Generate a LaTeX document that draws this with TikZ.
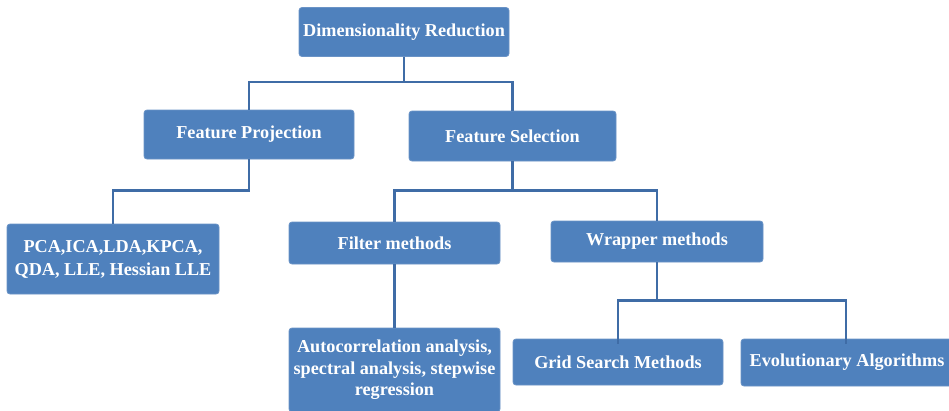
\documentclass[tikz,border=0pt]{standalone}
\usepackage{fontspec}
\setmainfont{Liberation Serif}
\definecolor{boxfill}{HTML}{4F81BD}
\definecolor{boxline}{HTML}{6A93C6}
\definecolor{conn}{HTML}{3F6CA6}
\begin{document}
\begin{tikzpicture}[x=1pt,y=-1pt,
  box/.style={draw=boxline, line width=0.8pt, fill=boxfill, rounded corners=3pt,
    text=white, font=\bfseries\fontsize{18.2}{21.5}\selectfont, align=center,
    inner sep=0pt},
  link/.style={draw=conn, line width=2.8pt}]
\useasboundingbox (0,0) rectangle (949,410);
\node[box, minimum width=210, minimum height=49] (dr) at (404,32) {Dimensionality Reduction};
\node[box, minimum width=210, minimum height=49] (fp) at (249,134.5) {Feature Projection};
\node[box, minimum width=207, minimum height=50] (fs) at (512.5,136) {Feature Selection};
\node[box, minimum width=212, minimum height=70] (pca) at (113,259) {PCA,ICA,LDA,KPCA,\\[1.5pt]QDA, LLE, Hessian LLE};
\node[box, minimum width=211, minimum height=42] (fm) at (394.5,243) {Filter methods};
\node[box, minimum width=212, minimum height=41] (wm) at (657,241.5) {Wrapper methods};
\node[box, minimum width=211, minimum height=84] (ac) at (394.5,370) {Autocorrelation analysis,\\spectral analysis, stepwise\\regression};
\node[box, minimum width=210, minimum height=46] (gs) at (618,362) {Grid Search Methods};
\node[box, minimum width=212, minimum height=47] (ea) at (847,362.5) {Evolutionary Algorithms};
\draw[link] (dr.south) -- ++(0,25) -| (fp.north);
\draw[link] (dr.south) -- ++(0,25) -| (fs.north);
\draw[link] (fp.south) -- ++(0,31) -| (pca.north);
\draw[link] (fs.south) -- ++(0,29) -| (fm.north);
\draw[link] (fs.south) -- ++(0,29) -| (wm.north);
\draw[link] (fm.south) -- (ac.north);
\draw[link] (wm.south) -- ++(0,38) -| ([yshift=-5pt]gs.north);
\draw[link] (wm.south) -- ++(0,38) -| ([yshift=-5pt]ea.north west -| 846,0);
\end{tikzpicture}
\end{document}
